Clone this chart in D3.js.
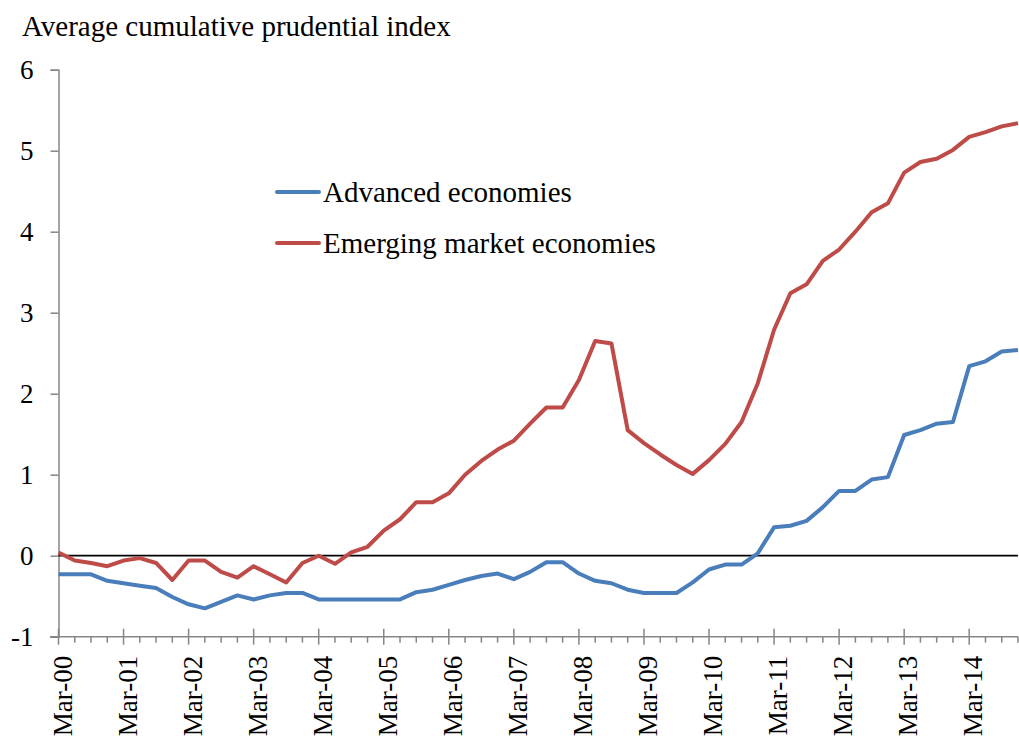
<!DOCTYPE html>
<html>
<head>
<meta charset="utf-8">
<script src="https://cdn.jsdelivr.net/npm/d3@7"></script>
<style>
  body { margin: 0; background: #fff; }
  svg text { font-family: "Liberation Serif", "Times New Roman", serif; fill: #000; }
</style>
</head>
<body>
<div id="chart"></div>
<script>
// quarterly, Mar-00 .. Dec-14
var quarters = [];
for (var y = 0; y <= 14; y++) {
    ["Mar", "Jun", "Sep", "Dec"].forEach(function(m) {
        quarters.push(m + "-" + (y < 10 ? "0" + y : "" + y));
    });
}

var advanced = [
    -0.23, -0.23, -0.23, -0.31, -0.34, -0.37, -0.40, -0.51, -0.60, -0.65,
    -0.57, -0.49, -0.54, -0.49, -0.46, -0.46, -0.54, -0.54, -0.54, -0.54,
    -0.54, -0.54, -0.45, -0.42, -0.36, -0.30, -0.25, -0.22, -0.29, -0.20,
    -0.08, -0.08, -0.22, -0.31, -0.34, -0.42, -0.46, -0.46, -0.46, -0.33,
    -0.17, -0.11, -0.11, 0.03, 0.35, 0.37, 0.43, 0.60, 0.80, 0.80,
    0.94, 0.97, 1.49, 1.55, 1.63, 1.65, 2.34, 2.40, 2.52, 2.54
];

var emerging = [
    0.04, -0.06, -0.09, -0.13, -0.06, -0.03, -0.09, -0.30, -0.06, -0.06,
    -0.20, -0.27, -0.13, -0.23, -0.33, -0.09, 0.00, -0.10, 0.04, 0.11,
    0.31, 0.45, 0.66, 0.66, 0.77, 1.00, 1.17, 1.31, 1.42, 1.63,
    1.83, 1.83, 2.17, 2.65, 2.62, 1.55, 1.39, 1.25, 1.12, 1.01,
    1.18, 1.38, 1.65, 2.13, 2.79, 3.24, 3.35, 3.64, 3.78, 4.00,
    4.24, 4.35, 4.73, 4.86, 4.90, 5.01, 5.17, 5.23, 5.30, 5.34
];

var yTicks = [-1, 0, 1, 2, 3, 4, 5, 6];
var seriesNames = ["Advanced economies", "Emerging market economies"];
var seriesColors = ["#4a7ebb", "#be4b48"];

var width = 1019, height = 740;
var svg = d3.select("#chart").append("svg")
    .attr("width", width)
    .attr("height", height);

var x = d3.scalePoint()
    .domain(quarters)
    .range([58.5, 1018]);

var yScale = d3.scaleLinear()
    .domain([-1, 6])
    .range([636.7, 69.7]);

// title
svg.append("text")
    .attr("x", 22)
    .attr("y", 36)
    .style("font-size", "29px")
    .text("Average cumulative prudential index");

// y axis
var yAxis = svg.append("g")
    .attr("transform", "translate(58.5,0)")
    .call(d3.axisLeft(yScale).tickValues(yTicks).tickSize(8).tickPadding(17)
        .tickFormat(function(d) { return String(d); }));
yAxis.select(".domain").attr("stroke", "#868686").attr("stroke-width", 1.5);
yAxis.selectAll(".tick line").attr("stroke", "#868686").attr("stroke-width", 1.5);
yAxis.selectAll(".tick text")
    .attr("fill", "#000")
    .style("font-family", "Liberation Serif, serif")
    .style("font-size", "27px");

// x axis (at -1), minor ticks each quarter
var xAxisG = svg.append("g")
    .attr("transform", "translate(0," + yScale(-1) + ")");
xAxisG.append("line")
    .attr("x1", 50).attr("x2", x(quarters[quarters.length - 1]))
    .attr("stroke", "#868686").attr("stroke-width", 1.5);
xAxisG.selectAll(".minor")
    .data(quarters)
    .enter().append("line")
    .attr("x1", function(d) { return x(d); })
    .attr("x2", function(d) { return x(d); })
    .attr("y1", function(d) { return d.indexOf("Mar") === 0 ? -8 : 0; })
    .attr("y2", function(d) { return d.indexOf("Mar") === 0 ? 8 : 6; })
    .attr("stroke", "#868686").attr("stroke-width", 1.5);

xAxisG.selectAll(".lbl")
    .data(quarters.filter(function(d) { return d.indexOf("Mar") === 0; }))
    .enter().append("text")
    .attr("transform", function(d) { return "translate(" + (x(d) + 13) + ",19) rotate(-90)"; })
    .attr("text-anchor", "end")
    .style("font-size", "27px")
    .text(function(d) { return d; });

// zero line
svg.append("line")
    .attr("x1", x(quarters[0]))
    .attr("x2", x(quarters[quarters.length - 1]))
    .attr("y1", yScale(0))
    .attr("y2", yScale(0))
    .attr("stroke", "#000")
    .attr("stroke-width", 1.8);

var line = d3.line()
    .x(function(d, i) { return x(quarters[i]); })
    .y(function(d) { return yScale(d); });

[advanced, emerging].forEach(function(s, k) {
    svg.append("path")
        .datum(s)
        .attr("d", line)
        .attr("fill", "none")
        .attr("stroke", seriesColors[k])
        .attr("stroke-width", 4)
        .attr("stroke-linejoin", "round");
});

// legend
var legend = svg.append("g").attr("transform", "translate(277,192)");
seriesNames.forEach(function(name, k) {
    var g = legend.append("g").attr("transform", "translate(0," + (k * 51) + ")");
    g.append("line")
        .attr("x1", 0).attr("x2", 42)
        .attr("stroke", seriesColors[k])
        .attr("stroke-width", 4)
        .attr("stroke-linecap", "round");
    g.append("text")
        .attr("x", 46)
        .attr("y", 10)
        .style("font-size", "29px")
        .text(name);
});
</script>
</body>
</html>
